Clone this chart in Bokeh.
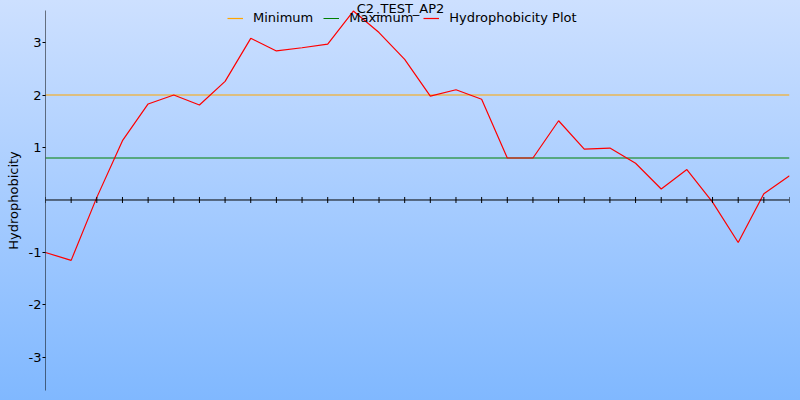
import math
from bokeh.plotting import figure
from bokeh.models import (Range1d, FixedTicker, Span, Label, Legend, LegendItem,
                          InlineStyleSheet)
from bokeh.embed import file_html
from bokeh.resources import INLINE

# ---- data ----
title_text = "C2_TEST_AP2"
y_label = "Hydrophobicity"
series_name = "Hydrophobicity Plot"
hydro_values = [-1.0, -1.15, 0.05, 1.13, 1.83, 2.0, 1.81, 2.26, 3.08, 2.84,
                2.9, 2.97, 3.6, 3.19, 2.68, 1.98, 2.1, 1.92, 0.8, 0.8,
                1.51, 0.97, 0.99, 0.7, 0.21, 0.58, -0.04, -0.81, 0.12, 0.46]
minimum_value = 2.0
maximum_value = 0.8
y_ticks = [-3, -2, -1, 1, 2, 3]

positions = list(range(len(hydro_values)))
n = len(hydro_values)

# vertical extent of the drawn y axis line, and of the whole frame
axis_top, axis_bottom = 3.61, -3.63
view_top, view_bottom = 3.8007, -3.8198

FONT = "DejaVu Sans"

css = InlineStyleSheet(css=""":host { position: fixed; left: 0px; top: 0px;
  background: linear-gradient(to bottom, #cde0ff 0%, #80b8ff 100%); }""")

p = figure(width=800, height=400, output_backend="svg", toolbar_location=None,
           x_range=Range1d(0, n - 1), y_range=Range1d(view_bottom, view_top),
           min_border_left=45, min_border_right=11, min_border_top=0,
           min_border_bottom=0, title=None)
p.stylesheets = [css]
p.background_fill_alpha = 0
p.border_fill_alpha = 0
p.outline_line_color = None
p.grid.visible = False
p.xaxis.visible = False

ya = p.yaxis[0]
ya.ticker = FixedTicker(ticks=y_ticks)
ya.major_label_overrides = {t: str(t) for t in y_ticks}
ya.minor_tick_line_color = None
ya.major_tick_in = 0
ya.major_tick_out = 3
ya.major_label_standoff = 1
ya.axis_line_color = None
ya.major_tick_line_color = "black"
ya.major_label_text_font = FONT
ya.major_label_text_font_size = "13px"
ya.major_label_text_color = "black"
ya.axis_label = y_label
ya.axis_label_text_font = FONT
ya.axis_label_text_font_size = "13px"
ya.axis_label_text_font_style = "normal"
ya.axis_label_text_color = "black"
ya.axis_label_standoff = 5

min_x = [positions[0], positions[-1]]
r_min = p.line(min_x, [minimum_value] * 2, line_color="#ffa500", line_width=1.2)
r_max = p.line(min_x, [maximum_value] * 2, line_color="#008000", line_width=1)
r_h = p.line(positions, hydro_values, line_color="#ff0000", line_width=1.2)

# y axis line (vertical) and zero axis with ticks
p.segment(x0=[positions[0]], y0=[axis_bottom], x1=[positions[0]], y1=[axis_top],
          line_color="black", line_width=1)
p.add_layout(Span(location=0, dimension="width", line_color="black", line_width=1))
p.scatter(positions, [0] * n, marker="dash", angle=math.pi / 2, size=6,
          line_color="black", line_width=1)

legend = Legend(items=[LegendItem(label="Minimum", renderers=[r_min]),
                       LegendItem(label="Maximum", renderers=[r_max]),
                       LegendItem(label=series_name, renderers=[r_h])],
                orientation="horizontal", location=(182, 375),
                background_fill_alpha=0, border_line_alpha=0,
                padding=0, margin=0, spacing=10, label_standoff=10,
                glyph_width=16, glyph_height=14, label_height=14,
                label_text_font=FONT, label_text_font_size="13px",
                label_text_color="black")
p.add_layout(legend, "center")

p.add_layout(Label(x=355, y=392, x_units="screen", y_units="screen",
                   text=title_text, text_align="center", text_baseline="alphabetic",
                   text_font=FONT, text_font_size="13px", text_color="black"))

open("out.html", "w").write(file_html(p, INLINE))
